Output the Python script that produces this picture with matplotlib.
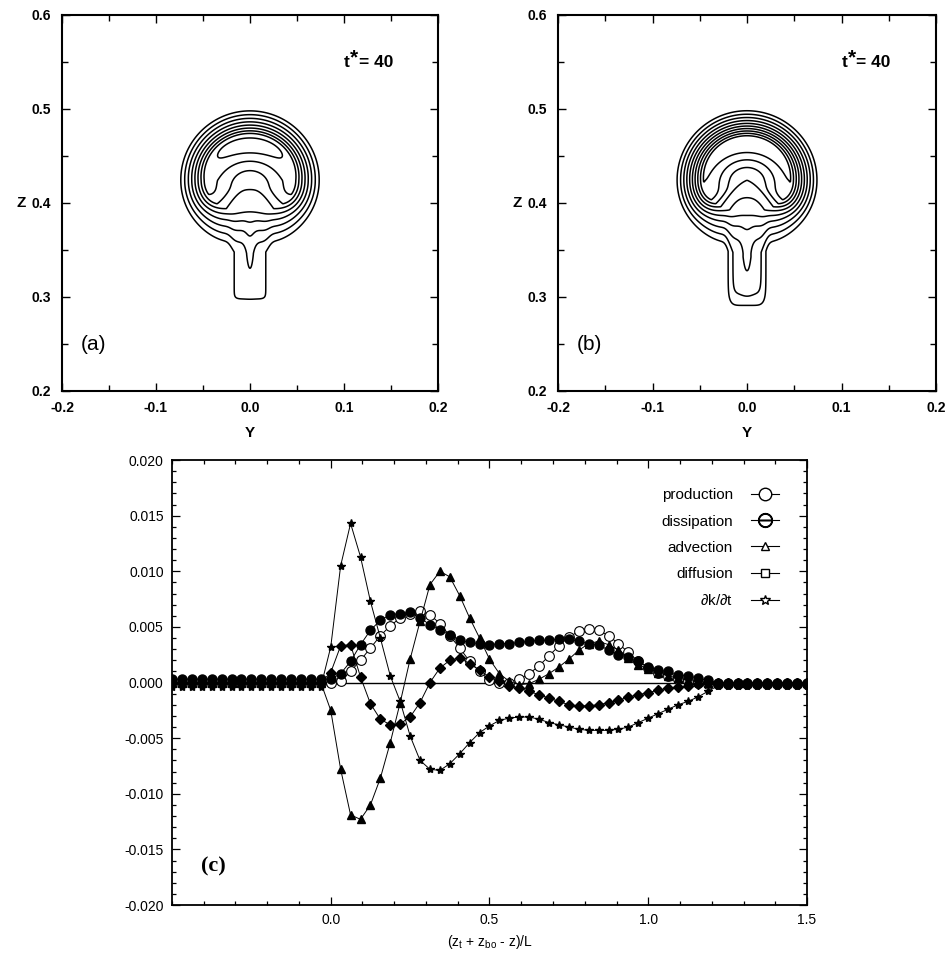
import numpy as np
import matplotlib
matplotlib.use("Agg")
import matplotlib.pyplot as plt
from matplotlib.lines import Line2D
from matplotlib.ticker import MultipleLocator, FormatStrFormatter

plt.rcParams["font.family"] = ["Liberation Sans", "DejaVu Sans"]
plt.rcParams["axes.unicode_minus"] = False
plt.rcParams["mathtext.fontset"] = "custom"
plt.rcParams["mathtext.rm"] = "Liberation Sans"
plt.rcParams["mathtext.it"] = "Liberation Sans"
plt.rcParams["mathtext.bf"] = "Liberation Sans:bold"

# ---------------------------------------------------------------------------
# (a), (b): cross-section of the thermal at t* = 40, cap + stem shape
# ---------------------------------------------------------------------------
PANEL_TAGS = ["(a)", "(b)"]
CAP_Z = [0.424, 0.424]           # centre height of the cap
CAP_R = [0.078, 0.078]           # cap radius
SHELL_TOP = [0.030, 0.032]       # rim thickness at the top and the sides
SHELL_BOT = [0.045, 0.045]       # rim thickness right below the centre
CORE_AXES = [(0.044, 0.036), (0.046, 0.040)]
CORE_SPREAD = [0.55, 0.60]
CORE_TAIL = [40.0, 40.0]         # how far the side lobes reach below the centre (deg)
CORE_SIDE = [0.75, 0.95]         # strength of the side lobes relative to the top
CORE_AMP = [2.5, 3.4]
BASE = [6.4, 6.8]
TILT_TOP = [1.0, 1.0]
TILT_BOT = [3.2, 3.4]
TILT_WIDTH = [0.03, 0.03]        # lateral extent of the weak lower centre
STEM_BOT = [0.2955, 0.2926]
STEM_EDGE = [0.004, 0.012]
STEM_W = [0.021, 0.0206]
STEM_LEVEL = [1.3, 2.3]
RIDGE_AMP = [1.0, 1.0]
RIDGE_W = [0.006, 0.007]
LEVELS = [np.arange(1, 10), np.arange(1, 11)]

# ---------------------------------------------------------------------------
# (c): budget of k along the axis
# ---------------------------------------------------------------------------
x_c = np.linspace(-0.5, 1.5, 65)
left_flat = 16

production = [0.0] * left_flat + [
    0.0000, 0.0001, 0.0010, 0.0020, 0.0031, 0.0042, 0.0051, 0.0058, 0.0062, 0.0064,
    0.0061, 0.0053, 0.0042, 0.0031, 0.0019, 0.0010, 0.0002, 0.0000, 0.0000, 0.0003,
    0.0008, 0.0015, 0.0024, 0.0033, 0.0041, 0.0046, 0.0048, 0.0047, 0.0042, 0.0035,
    0.0027, 0.0019, 0.0013, 0.0009, 0.0006, 0.0003, 0.0001, 0.0000] + [-0.0001] * 11

dissipation = [0.0003] * left_flat + [
    0.0003, 0.0008, 0.0019, 0.0034, 0.0047, 0.0056, 0.0061, 0.0062, 0.0063, 0.0058,
    0.0052, 0.0047, 0.0043, 0.0038, 0.0036, 0.0035, 0.0034, 0.0035, 0.0035, 0.0036,
    0.0037, 0.0038, 0.0038, 0.0039, 0.0039, 0.0037, 0.0035, 0.0034, 0.0029, 0.0025,
    0.0023, 0.0019, 0.0014, 0.0011, 0.0010, 0.0007, 0.0006, 0.0004, 0.0002] + [0.0] * 10

advection = [0.0] * left_flat + [
    -0.0025, -0.0078, -0.0119, -0.0123, -0.0110, -0.0086, -0.0054, -0.0018, 0.0021, 0.0055,
    0.0088, 0.0100, 0.0095, 0.0078, 0.0058, 0.0040, 0.0021, 0.0008, 0.0001, -0.0002,
    -0.0001, 0.0003, 0.0008, 0.0014, 0.0021, 0.0029, 0.0035, 0.0037, 0.0034, 0.0029,
    0.0022, 0.0016, 0.0012, 0.0009, 0.0006, 0.0004, 0.0002, 0.0001, 0.0000] + [0.0] * 10

diffusion = [0.0] * left_flat + [
    0.0009, 0.0033, 0.0034, 0.0005, -0.0019, -0.0033, -0.0038, -0.0037, -0.0031, -0.0018,
    0.0000, 0.0013, 0.0020, 0.0022, 0.0017, 0.0011, 0.0005, 0.0001, -0.0003, -0.0005,
    -0.0008, -0.0011, -0.0014, -0.0017, -0.0020, -0.0021, -0.0021, -0.0020, -0.0018, -0.0016,
    -0.0013, -0.0011, -0.0009, -0.0007, -0.0005, -0.0004, -0.0003, -0.0001, 0.0000] + [0.0] * 10

dkdt = [-0.0004] * left_flat + [
    0.0032, 0.0105, 0.0143, 0.0113, 0.0073, 0.0040, 0.0006, -0.0017, -0.0048, -0.0070,
    -0.0078, -0.0079, -0.0073, -0.0064, -0.0054, -0.0045, -0.0039, -0.0034, -0.0032, -0.0031,
    -0.0031, -0.0033, -0.0036, -0.0038, -0.0040, -0.0042, -0.0043, -0.0043, -0.0043, -0.0042,
    -0.0040, -0.0036, -0.0032, -0.0028, -0.0024, -0.0020, -0.0017, -0.0013, -0.0008, -0.0003] + [-0.0003] * 9


def cap_field(Y, Z, k):
    dz = Z - CAP_Z[k]
    r = np.hypot(Y, dz)
    up = dz / np.maximum(r, 1e-9)                  # sine of the polar angle
    shell = SHELL_TOP[k] + (SHELL_BOT[k] - SHELL_TOP[k]) * np.clip(-up, 0, 1) ** 2
    edge = np.clip((CAP_R[k] - r) / shell, 0, 1)
    a_y, a_z = CORE_AXES[k]
    rho = np.hypot(Y / a_y, dz / a_z)
    theta = np.arctan2(dz / a_z, np.abs(Y) / a_y)
    ring = np.exp(-((rho - 1) / CORE_SPREAD[k]) ** 2)
    tail = 0.5 * (1 + np.tanh((np.degrees(theta) + CORE_TAIL[k]) / 15.0))
    side = CORE_SIDE[k] + (1 - CORE_SIDE[k]) * np.clip(np.sin(theta), 0, 1)
    lower = np.exp(-(Y / TILT_WIDTH[k]) ** 2)
    tilt = np.where(dz < 0, TILT_BOT[k] * lower, TILT_TOP[k])
    inner = BASE[k] + tilt * dz / CAP_R[k] + CORE_AMP[k] * ring * tail * side
    return edge * inner, edge


def stem_field(Y, Z, k):
    bottom = 0.5 * (1 + np.tanh((Z - STEM_BOT[k]) / STEM_EDGE[k]))
    top = 0.5 * (1 - np.tanh((Z - CAP_Z[k]) / 0.01))
    body = STEM_LEVEL[k] * np.exp(-(np.abs(Y) / STEM_W[k]) ** 6) * bottom
    rise = np.clip((Z - STEM_BOT[k]) / 0.05, 0, 1)
    ridge = RIDGE_AMP[k] * np.exp(-(Y / RIDGE_W[k]) ** 2) * rise
    return (body + ridge) * top


yy = np.linspace(-0.2, 0.2, 801)
zz = np.linspace(0.2, 0.6, 801)
Y, Z = np.meshgrid(yy, zz)

fig = plt.figure(figsize=(9.48, 9.58), dpi=100)
ax_a = fig.add_axes([0.0654, 0.5919, 0.3966, 0.3925])
ax_b = fig.add_axes([0.5886, 0.5919, 0.3988, 0.3925])

for k, ax in enumerate([ax_a, ax_b]):
    cap, edge = cap_field(Y, Z, k)
    F = cap + stem_field(Y, Z, k) * (1 - edge)
    ax.contour(Y, Z, F, levels=LEVELS[k], colors="k", linewidths=1.1)
    ax.set_xlim(-0.2, 0.2)
    ax.set_ylim(0.2, 0.6)
    ax.xaxis.set_major_locator(MultipleLocator(0.1))
    ax.xaxis.set_minor_locator(MultipleLocator(0.05))
    ax.yaxis.set_major_locator(MultipleLocator(0.1))
    ax.yaxis.set_minor_locator(MultipleLocator(0.05))
    ax.xaxis.set_major_formatter(FormatStrFormatter("%.1f"))
    ax.yaxis.set_major_formatter(FormatStrFormatter("%.1f"))
    ax.tick_params(which="both", direction="in", top=True, right=True,
                   labelsize=10, width=1.0)
    ax.tick_params(axis="x", pad=7)
    ax.tick_params(axis="y", pad=8)
    ax.tick_params(which="major", length=6)
    ax.tick_params(which="minor", length=4)
    for lab in ax.get_xticklabels() + ax.get_yticklabels():
        lab.set_fontweight("bold")
    for sp in ax.spines.values():
        sp.set_linewidth(1.5)
    ax.set_xlabel("Y", fontsize=11, fontweight="bold", labelpad=8)
    ax.text(-0.095, 0.5, "Z", transform=ax.transAxes, fontsize=11,
            fontweight="bold", ha="right", va="center")
    ax.text(0.100, 0.549, "t", fontsize=12.5, fontweight="bold",
            ha="left", va="center")
    ax.text(0.1065, 0.5545, "*", fontsize=15, fontweight="bold",
            ha="left", va="center")
    ax.text(0.1155, 0.549, "= 40", fontsize=12.5, fontweight="bold",
            ha="left", va="center")
    ax.text(-0.18, 0.249, PANEL_TAGS[k], fontsize=15, ha="left", va="center")

# ---------------------------------------------------------------------------
ax_c = fig.add_axes([0.1814, 0.0553, 0.6699, 0.4645])
ax_c.axhline(0, color="k", lw=1.0, zorder=1)
ax_c.plot(x_c, production, color="k", lw=0.7, marker="o", ms=7,
          mfc="white", mec="k", mew=0.8, zorder=2)
ax_c.plot(x_c, dissipation, color="k", lw=0.7, marker="o", ms=6.5,
          mfc="k", mec="k", zorder=3)
ax_c.plot(x_c, diffusion, color="k", lw=0.7, marker="D", ms=5,
          mfc="k", mec="k", zorder=4)
ax_c.plot(x_c, advection, color="k", lw=0.7, marker="^", ms=5.5,
          mfc="k", mec="k", zorder=5)
ax_c.plot(x_c, dkdt, color="k", lw=0.7, marker="*", ms=6,
          mfc="k", mec="k", zorder=6)

ax_c.set_xlim(-0.5, 1.5)
ax_c.set_ylim(-0.02, 0.02)
ax_c.set_xticks([0.0, 0.5, 1.0, 1.5])
ax_c.xaxis.set_minor_locator(MultipleLocator(0.1))
ax_c.yaxis.set_major_locator(MultipleLocator(0.005))
ax_c.yaxis.set_minor_locator(MultipleLocator(0.001))
ax_c.xaxis.set_major_formatter(FormatStrFormatter("%.1f"))
ax_c.yaxis.set_major_formatter(FormatStrFormatter("%.3f"))
ax_c.tick_params(which="both", direction="in", top=True, right=True,
                 labelsize=10, pad=6, width=0.9)
ax_c.tick_params(which="major", length=6)
ax_c.tick_params(which="minor", length=3)
for sp in ax_c.spines.values():
    sp.set_linewidth(1.3)
ax_c.set_xlabel(r"(z$_{\rm t}$ + z$_{\rm bo}$ - z)/L", fontsize=10, labelpad=4)
ax_c.text(-0.41, -0.0165, "(c)", fontsize=16, fontweight="bold",
          family=["Liberation Serif", "DejaVu Serif"], ha="left", va="center")

handles = [
    Line2D([], [], color="k", lw=0.8, marker="o", ms=9, mfc="white", mec="k"),
    Line2D([], [], color="k", lw=0.8, marker=r"$\ominus$", ms=10, mec="k"),
    Line2D([], [], color="k", lw=0.8, marker="^", ms=6, mfc="white", mec="k"),
    Line2D([], [], color="k", lw=0.8, marker="s", ms=5.5, mfc="white", mec="k"),
    Line2D([], [], color="k", lw=0.8, marker="*", ms=7, mfc="white", mec="k"),
]
labels = ["production", "dissipation", "advection", "diffusion", r"$\partial$k/$\partial$t"]
ax_c.legend(handles, labels, loc="upper right", bbox_to_anchor=(0.965, 0.95),
            frameon=False, markerfirst=False, fontsize=11, handlelength=1.8,
            handletextpad=1.2, labelspacing=0.8, borderaxespad=0)

fig.savefig("out.png", dpi=100)
